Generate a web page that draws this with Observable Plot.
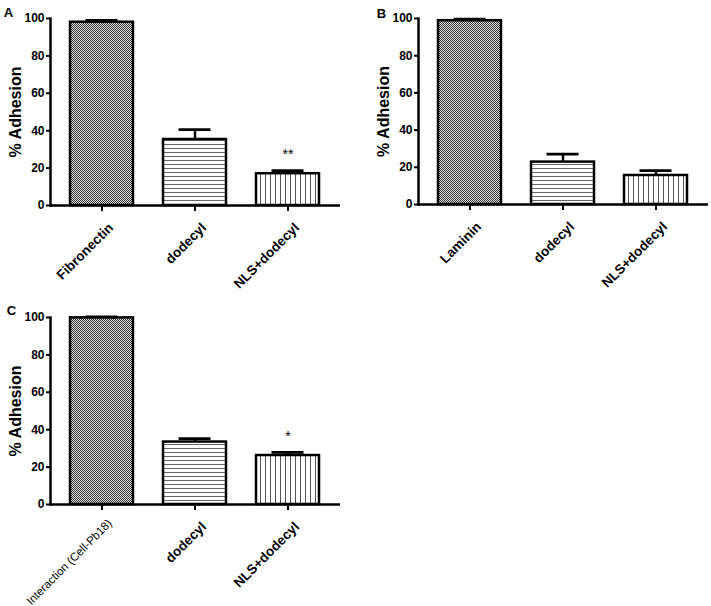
<!DOCTYPE html>
<html>
<head>
<meta charset="utf-8">
<script src="https://cdn.jsdelivr.net/npm/d3@7"></script>
<script src="https://cdn.jsdelivr.net/npm/@observablehq/plot@0.6"></script>
<style>
  html, body { margin: 0; padding: 0; background: #fff; }
  #wrap { position: relative; width: 711px; height: 606px; overflow: hidden; }
  .panel { position: absolute; }
</style>
</head>
<body>
<div id="wrap">
  <div class="panel" id="pA" style="left:0px; top:0px;"></div>
  <div class="panel" id="pB" style="left:368px; top:0px;"></div>
  <div class="panel" id="pC" style="left:0px; top:300px;"></div>
</div>
<script>
// ---- Data ----
const yTicks = [0, 20, 40, 60, 80, 100];
const yLabel = "% Adhesion";

const catsA = ["Fibronectin", "dodecyl", "NLS+dodecyl"];
const meanA = [98.0, 35.3, 17.0];
const errA  = [1.0, 5.3, 1.7];
const sigA  = ["", "", "**"];

const catsB = ["Laminin", "dodecyl", "NLS+dodecyl"];
const meanB = [98.8, 22.8, 15.6];
const errB  = [0.9, 4.3, 2.6];
const sigB  = ["", "", ""];

const catsC = ["Interaction (Cell-Pb18)", "dodecyl", "NLS+dodecyl"];
const meanC = [99.8, 33.4, 26.2];
const errC  = [0.5, 1.8, 1.7];
const sigC  = ["", "", "*"];

const patternNames = ["check", "hline", "vline"];

function addPatterns(svg, id) {
  const defs = d3.select(svg).insert("defs", ":first-child");
  const c = defs.append("pattern").attr("id", id + "-check")
    .attr("patternUnits", "userSpaceOnUse").attr("width", 2).attr("height", 2);
  c.append("rect").attr("width", 2).attr("height", 2).attr("fill", "#e4e4e4");
  c.append("rect").attr("x", 0).attr("y", 0).attr("width", 1).attr("height", 1).attr("fill", "#303030");
  c.append("rect").attr("x", 1).attr("y", 1).attr("width", 1).attr("height", 1).attr("fill", "#303030");
  const h = defs.append("pattern").attr("id", id + "-hline")
    .attr("patternUnits", "userSpaceOnUse").attr("width", 4).attr("height", 4);
  h.append("rect").attr("width", 4).attr("height", 4).attr("fill", "#fff");
  h.append("rect").attr("x", 0).attr("y", 0).attr("width", 4).attr("height", 1).attr("fill", "#666");
  const v = defs.append("pattern").attr("id", id + "-vline")
    .attr("patternUnits", "userSpaceOnUse").attr("width", 5).attr("height", 5);
  v.append("rect").attr("width", 5).attr("height", 5).attr("fill", "#fff");
  v.append("rect").attr("x", 0).attr("y", 0).attr("width", 1).attr("height", 5).attr("fill", "#555");
}

function panel(cfg) {
  const rows = cfg.cats.map((c, i) => ({
    cat: c, mean: cfg.mean[i], hi: cfg.mean[i] + cfg.err[i], sig: cfg.sig[i],
    fill: `url(#${cfg.id}-${patternNames[i]})`
  }));
  const boldLabels = cfg.plainFirst ? cfg.cats.slice(1) : cfg.cats;
  const plainLabels = cfg.plainFirst ? cfg.cats.slice(0, 1) : [];
  const svg = Plot.plot({
    width: cfg.width, height: cfg.height,
    marginLeft: cfg.marginLeft, marginRight: cfg.marginRight,
    marginTop: cfg.marginTop, marginBottom: cfg.marginBottom,
    style: { fontFamily: "'Liberation Sans', Arial, sans-serif", fontSize: "12px", color: "#000", background: "#fff" },
    x: { domain: cfg.cats, paddingInner: 0.32, paddingOuter: 0.215, axis: null },
    y: { domain: [0, 100], axis: null, label: null },
    color: { type: "identity" },
    marks: [
      Plot.barY(rows, { x: "cat", y: "mean", fill: "fill", stroke: "#000", strokeWidth: 2.5 }),
      Plot.ruleX(rows, { x: "cat", y1: "mean", y2: "hi", stroke: "#000", strokeWidth: 2.5 }),
      Plot.tickY(rows, { x: "cat", y: "hi", stroke: "#000", strokeWidth: 2.8, insetLeft: 15.5, insetRight: 15.5 }),
      Plot.text(rows.filter(d => d.sig), { x: "cat", y: "hi", text: "sig", dy: -16, fontSize: 14, fill: "#000" }),
      Plot.frame({ anchor: "left", stroke: "#000", strokeWidth: 2.5 }),
      Plot.ruleY([0], { stroke: "#000", strokeWidth: 2.5 }),
      Plot.axisY({ ticks: yTicks, tickSize: 4, tickPadding: 2, fontSize: 12, fontWeight: "bold", strokeWidth: 2, label: null }),
      Plot.axisX({ tickSize: 6, tickFormat: () => "", strokeWidth: 2, label: null }),
      Plot.text(boldLabels, { x: d => d, frameAnchor: "bottom", rotate: -45, textAnchor: "end", lineAnchor: "middle", dx: 9, dy: 20, fontSize: 13.5, fontWeight: "bold", fill: "#000" }),
      Plot.text(plainLabels, { x: d => d, frameAnchor: "bottom", rotate: -45, textAnchor: "end", lineAnchor: "middle", dx: 8, dy: 17, fontSize: 11.5, fill: "#000" }),
      Plot.text([yLabel], { text: d => d, frameAnchor: "left", dx: -35, rotate: -90, textAnchor: "middle", lineAnchor: "middle", fontSize: 16, fontWeight: "bold" }),
      Plot.text([cfg.letter], { text: d => d, frameAnchor: "top-left", dx: cfg.letterDx, dy: cfg.letterDy, textAnchor: "middle", lineAnchor: "middle", fontSize: 13, fontWeight: "bold" })
    ]
  });
  addPatterns(svg, cfg.id);
  document.getElementById(cfg.el).appendChild(svg);
}

panel({ el: "pA", id: "pa", letter: "A", cats: catsA, mean: meanA, err: errA, sig: sigA,
  width: 345, height: 300, marginLeft: 50, marginRight: 5, marginTop: 18, marginBottom: 95,
  letterDx: -42, letterDy: -6 });
panel({ el: "pB", id: "pb", letter: "B", cats: catsB, mean: meanB, err: errB, sig: sigB,
  width: 343, height: 300, marginLeft: 50, marginRight: 3, marginTop: 18, marginBottom: 96,
  letterDx: -37, letterDy: -5 });
panel({ el: "pC", id: "pc", letter: "C", cats: catsC, mean: meanC, err: errC, sig: sigC, plainFirst: true,
  width: 345, height: 306, marginLeft: 50, marginRight: 5, marginTop: 17, marginBottom: 102,
  letterDx: -39, letterDy: -7 });
</script>
</body>
</html>
